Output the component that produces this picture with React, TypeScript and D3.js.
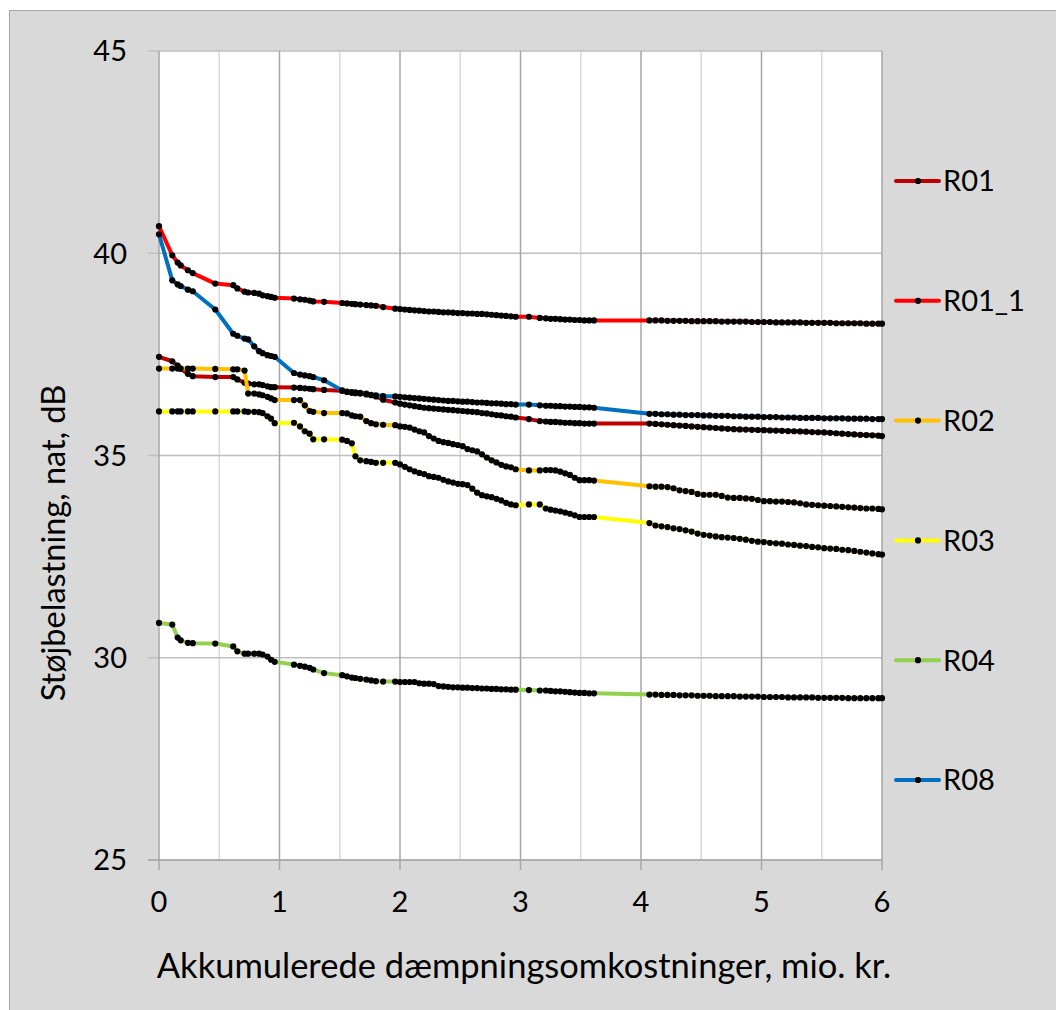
import React from 'react';
import * as d3 from 'd3';

// ---------- data ----------
const COST_HEAD = [
  0, 0.11, 0.155, 0.18, 0.24, 0.28,
  0.467,
  0.616, 0.65, 0.71, 0.74, 0.79, 0.83, 0.86, 0.9, 0.93, 0.96,
  1.12, 1.17, 1.21, 1.25, 1.28, 1.37,
  1.52, 1.56, 1.6, 1.63, 1.67, 1.72, 1.76, 1.8, 1.86,
  1.96, 2.0, 2.04, 2.08, 2.12, 2.16, 2.2, 2.24, 2.28, 2.32, 2.36, 2.4, 2.44, 2.48, 2.52, 2.56, 2.6, 2.64, 2.68, 2.72, 2.76, 2.8, 2.84, 2.88, 2.92, 2.96,
  3.07, 3.16,
  3.21, 3.25, 3.29, 3.33, 3.37, 3.41, 3.45, 3.49, 3.53, 3.57, 3.61,
];
const COST_TAIL = [
  4.07, 4.12, 4.17, 4.22, 4.27, 4.32, 4.37, 4.42, 4.47, 4.52,
  4.57, 4.62, 4.67, 4.72, 4.77, 4.82, 4.87, 4.92, 4.97, 5.02,
  5.07, 5.12, 5.17, 5.22, 5.27, 5.32, 5.37, 5.42, 5.47, 5.52,
  5.57, 5.62, 5.67, 5.72, 5.77, 5.82, 5.87, 5.92, 5.97, 6.0,
];

const R01_HEAD = [
  37.44, 37.33, 37.22, 37.15, 37.02, 36.96,
  36.94,
  36.94, 36.88, 36.8, 36.78, 36.76, 36.76, 36.74, 36.71, 36.69, 36.69,
  36.68, 36.67, 36.66, 36.65, 36.64, 36.62,
  36.6, 36.58, 36.57, 36.56, 36.55, 36.53, 36.5, 36.46, 36.38,
  36.31, 36.28, 36.26, 36.24, 36.22, 36.2, 36.18, 36.17, 36.16, 36.15, 36.14, 36.13, 36.12, 36.11, 36.1, 36.09, 36.08, 36.07, 36.05, 36.04, 36.02, 36.0, 35.99, 35.97, 35.96, 35.94,
  35.9, 35.85,
  35.84, 35.83, 35.83, 35.82, 35.81, 35.81, 35.8, 35.8, 35.79, 35.79, 35.79,
];
const R01_TAIL = [
  35.79, 35.78, 35.77, 35.76, 35.75, 35.74, 35.73, 35.72, 35.71, 35.7,
  35.69, 35.68, 35.67, 35.66, 35.65, 35.645, 35.64, 35.635, 35.63, 35.625,
  35.62, 35.615, 35.61, 35.605, 35.6, 35.595, 35.59, 35.58, 35.575, 35.57,
  35.56, 35.55, 35.54, 35.53, 35.52, 35.51, 35.505, 35.5, 35.49, 35.48,
];

const R01_1_HEAD = [
  40.67, 39.95, 39.77, 39.7, 39.58, 39.51,
  39.25,
  39.21, 39.13, 39.05, 39.03, 39.02, 39.0, 38.96, 38.94, 38.92, 38.9,
  38.88, 38.86, 38.85, 38.83, 38.81, 38.8,
  38.77, 38.76, 38.75, 38.74, 38.73, 38.72, 38.71, 38.7, 38.67,
  38.63, 38.62, 38.61, 38.6, 38.59, 38.58, 38.57, 38.56, 38.56, 38.55, 38.54, 38.54, 38.53, 38.52, 38.52, 38.51, 38.51, 38.5, 38.5, 38.49, 38.48, 38.47, 38.46, 38.45, 38.44, 38.43,
  38.43, 38.4,
  38.39, 38.38, 38.38, 38.37, 38.36, 38.36, 38.35, 38.35, 38.34, 38.34, 38.34,
];
const R01_1_TAIL = [
  38.34, 38.34, 38.34, 38.33, 38.33, 38.33, 38.33, 38.32, 38.32, 38.32,
  38.32, 38.32, 38.31, 38.31, 38.31, 38.31, 38.31, 38.3, 38.3, 38.3,
  38.3, 38.29, 38.29, 38.29, 38.29, 38.29, 38.28, 38.28, 38.28, 38.28,
  38.28, 38.27, 38.27, 38.27, 38.27, 38.27, 38.26, 38.26, 38.26, 38.26,
];

const R02_HEAD = [
  37.15, 37.15, 37.15, 37.15, 37.15, 37.15,
  37.14,
  37.13, 37.13, 37.1, 36.53, 36.53, 36.51, 36.49, 36.45, 36.41, 36.37,
  36.37, 36.37, 36.24, 36.1, 36.08, 36.05,
  36.05, 36.04, 35.99, 35.97, 35.96, 35.85, 35.8, 35.77, 35.76,
  35.75, 35.72, 35.71, 35.69, 35.64, 35.6, 35.57, 35.48, 35.42, 35.36, 35.33, 35.31, 35.28, 35.26, 35.23, 35.16, 35.13, 35.1, 35.03, 34.95, 34.88, 34.83, 34.77, 34.73, 34.71, 34.66,
  34.63, 34.63,
  34.64, 34.64, 34.63, 34.6, 34.56, 34.52, 34.45, 34.39, 34.39, 34.39, 34.38,
];
const R02_TAIL = [
  34.24, 34.23, 34.23, 34.22, 34.19, 34.14, 34.12, 34.1, 34.05, 34.03,
  34.03, 34.03, 34.0, 33.96, 33.95, 33.95, 33.94, 33.93, 33.9, 33.87,
  33.87, 33.86, 33.86, 33.85, 33.84, 33.82, 33.79, 33.78, 33.77, 33.76,
  33.75, 33.74, 33.73, 33.72, 33.71, 33.7, 33.69, 33.69, 33.68, 33.67,
];

const R03_HEAD = [
  36.09, 36.09, 36.09, 36.09, 36.09, 36.09,
  36.09,
  36.09, 36.09, 36.09, 36.08, 36.08, 36.07, 36.05, 35.97, 35.91, 35.8,
  35.81, 35.72, 35.6, 35.54, 35.4, 35.4,
  35.39, 35.36, 35.3, 34.98, 34.88, 34.86, 34.84, 34.82, 34.82,
  34.82, 34.78, 34.72, 34.66, 34.61, 34.57, 34.54, 34.49, 34.47, 34.45, 34.4, 34.36, 34.33, 34.3, 34.29, 34.27, 34.18, 34.08, 34.02, 33.99, 33.97, 33.93, 33.89, 33.83, 33.79, 33.77,
  33.79, 33.79,
  33.69, 33.66, 33.64, 33.62, 33.59, 33.56, 33.52, 33.48, 33.48, 33.48, 33.48,
];
const R03_TAIL = [
  33.33, 33.27, 33.25, 33.23, 33.2, 33.18, 33.15, 33.12, 33.07, 33.04,
  33.02, 33.0, 32.98, 32.97, 32.96, 32.94, 32.92, 32.89, 32.87, 32.86,
  32.84, 32.83, 32.82, 32.8, 32.79, 32.77, 32.76, 32.74, 32.73, 32.71,
  32.7, 32.69, 32.67, 32.66, 32.64, 32.62, 32.6, 32.58, 32.56, 32.55,
];

const R04_HEAD = [
  30.86, 30.82, 30.5, 30.43, 30.37, 30.36,
  30.35,
  30.28, 30.16, 30.1, 30.1, 30.1, 30.1, 30.08, 30.03, 29.95, 29.9,
  29.83, 29.8, 29.78, 29.75, 29.71, 29.62,
  29.57, 29.54, 29.51, 29.5, 29.48, 29.46, 29.44, 29.42, 29.41,
  29.41, 29.4, 29.4, 29.4, 29.4, 29.37, 29.36, 29.36, 29.35, 29.3, 29.29, 29.28, 29.27, 29.27, 29.26, 29.26, 29.25, 29.25, 29.24, 29.24, 29.23, 29.23, 29.22, 29.22, 29.21, 29.21,
  29.2, 29.19,
  29.19, 29.18, 29.17, 29.17, 29.16, 29.15, 29.14, 29.13, 29.13, 29.12, 29.12,
];
const R04_TAIL = [
  29.09, 29.09, 29.08, 29.08, 29.08, 29.07, 29.07, 29.07, 29.06, 29.06,
  29.06, 29.05, 29.05, 29.05, 29.05, 29.04, 29.04, 29.04, 29.04, 29.03,
  29.03, 29.03, 29.03, 29.02, 29.02, 29.02, 29.02, 29.02, 29.01, 29.01,
  29.01, 29.01, 29.01, 29.0, 29.0, 29.0, 29.0, 29.0, 29.0, 29.0,
];

const R08_HEAD = [
  40.47, 39.33, 39.23, 39.19, 39.1, 39.06,
  38.61,
  38.01, 37.96, 37.89, 37.87, 37.7, 37.58, 37.53, 37.48, 37.46, 37.44,
  37.04, 37.0, 36.98, 36.96, 36.94, 36.86,
  36.61, 36.57, 36.55, 36.54, 36.53, 36.51, 36.49, 36.49, 36.47,
  36.46, 36.45, 36.44, 36.43, 36.42, 36.41, 36.4, 36.39, 36.38, 36.37, 36.36, 36.35, 36.35, 36.34, 36.33, 36.33, 36.32, 36.31, 36.31, 36.3, 36.29, 36.29, 36.28, 36.27, 36.27, 36.26,
  36.26, 36.24,
  36.23, 36.23, 36.22, 36.22, 36.21, 36.21, 36.2, 36.2, 36.19, 36.19, 36.18,
];
const R08_TAIL = [
  36.03, 36.03, 36.02, 36.02, 36.01, 36.01, 36.0, 36.0, 36.0, 35.99,
  35.99, 35.98, 35.98, 35.98, 35.97, 35.97, 35.96, 35.96, 35.96, 35.95,
  35.95, 35.95, 35.94, 35.94, 35.94, 35.93, 35.93, 35.93, 35.93, 35.92,
  35.92, 35.92, 35.92, 35.91, 35.91, 35.91, 35.91, 35.9, 35.9, 35.9,
];

const SERIES_NAMES = ['R01', 'R01_1', 'R02', 'R03', 'R04', 'R08'];
const SERIES_COLORS = ['#c00000', '#ff0000', '#ffc000', '#ffff00', '#92d050', '#0070c0'];
const SERIES_VALUES = [
  [...R01_HEAD, ...R01_TAIL],
  [...R01_1_HEAD, ...R01_1_TAIL],
  [...R02_HEAD, ...R02_TAIL],
  [...R03_HEAD, ...R03_TAIL],
  [...R04_HEAD, ...R04_TAIL],
  [...R08_HEAD, ...R08_TAIL],
];
const COST = [...COST_HEAD, ...COST_TAIL];

const X_TICKS = [0, 1, 2, 3, 4, 5, 6];
const X_MINOR = [0.5, 1.5, 2.5, 3.5, 4.5, 5.5];
const Y_TICKS = [25, 30, 35, 40, 45];

const X_TITLE = 'Akkumulerede dæmpningsomkostninger, mio. kr.';
const Y_TITLE = 'Støjbelastning, nat, dB';

// ---------- layout ----------
const W = 1056;
const H = 1010;
const PL = 159, PR = 882, PT = 51, PB = 860;
const FONT = 'Lato, "Open Sans", sans-serif';

export default function App() {
  const x = d3.scaleLinear().domain([0, 6]).range([PL, PR]);
  const y = d3.scaleLinear().domain([25, 45]).range([PB, PT]);
  const line = d3.line<number>().x((_, i) => x(COST[i])).y((d) => y(d));

  return (
    <svg width={W} height={H} style={{ position: 'absolute', left: 0, top: 0 }} fontFamily={FONT}>
      <rect x={9.5} y={10.5} width={W + 10} height={H + 10} fill="#d9d9d9" stroke="#a6a6a6" strokeWidth={1} />
      <rect x={PL} y={PT} width={PR - PL} height={PB - PT} fill="#ffffff" />
      {X_MINOR.map((v) => (
        <line key={'xm' + v} x1={x(v)} x2={x(v)} y1={PT} y2={PB} stroke="#d9d9d9" strokeWidth={1.5} />
      ))}
      {Y_TICKS.map((v) => (
        <line key={'yg' + v} x1={PL - 11} x2={PR} y1={y(v)} y2={y(v)} stroke="#bfbfbf" strokeWidth={1.5} />
      ))}
      {X_TICKS.map((v) => (
        <line key={'xg' + v} x1={x(v)} x2={x(v)} y1={PT} y2={PB + 10} stroke="#a6a6a6" strokeWidth={1.5} />
      ))}
      <line x1={PL - 11} x2={PR} y1={PB} y2={PB} stroke="#a6a6a6" strokeWidth={1.5} />

      {SERIES_VALUES.map((vals, si) => (
        <g key={SERIES_NAMES[si]}>
          <path d={line(vals) || ''} fill="none" stroke={SERIES_COLORS[si]} strokeWidth={4} strokeLinejoin="round" strokeLinecap="round" />
          {vals.map((v, i) => (
            <circle key={i} cx={x(COST[i])} cy={y(v)} r={3.1} fill="#000000" />
          ))}
        </g>
      ))}

      {Y_TICKS.map((v) => (
        <text key={'yl' + v} x={127} y={y(v)} dy="0.36em" textAnchor="end" fontSize={29} fill="#000">
          {v}
        </text>
      ))}
      {X_TICKS.map((v) => (
        <text key={'xl' + v} x={x(v)} y={912} textAnchor="middle" fontSize={29} fill="#000">
          {v}
        </text>
      ))}
      <text x={524} y={978} textAnchor="middle" fontSize={34.5} fill="#000">
        {X_TITLE}
      </text>
      <text transform="translate(65,543) rotate(-90)" textAnchor="middle" fontSize={32.5} fill="#000">
        {Y_TITLE}
      </text>

      {SERIES_NAMES.map((name, i) => {
        const ly = 181 + i * 119.8;
        return (
          <g key={'lg' + name}>
            <line x1={896} x2={939} y1={ly} y2={ly} stroke={SERIES_COLORS[i]} strokeWidth={4} strokeLinecap="round" />
            <circle cx={918} cy={ly} r={3.1} fill="#000" />
            <text x={943} y={ly} dy="0.36em" fontSize={29} fill="#000">
              {name}
            </text>
          </g>
        );
      })}
    </svg>
  );
}
